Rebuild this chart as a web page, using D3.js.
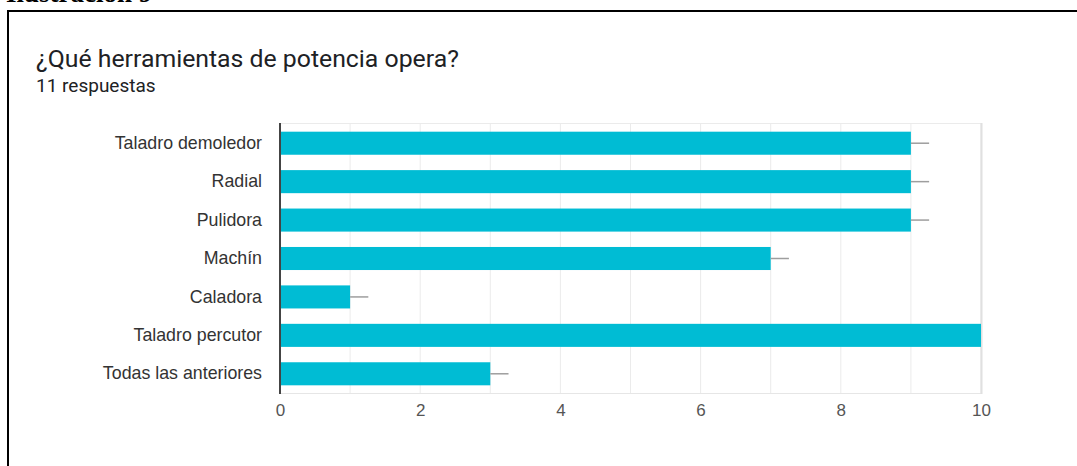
<!DOCTYPE html>
<html><head><meta charset="utf-8">
<script src="https://cdn.jsdelivr.net/npm/d3@7"></script>
<style>
html,body{margin:0;padding:0;background:#fff;}
svg{display:block;}
</style></head>
<body>
<svg id="chart" width="1077" height="466"></svg>
<script>
const categories = ["Taladro demoledor","Radial","Pulidora","Machín","Caladora","Taladro percutor","Todas las anteriores"];
const values = [9, 9, 9, 7, 1, 10, 3];
const tickValues = [0, 2, 4, 6, 8, 10];
const gridValues = [0,1,2,3,4,5,6,7,8,9,10];
const title = "¿Qué herramientas de potencia opera?";
const subtitle = "11 respuestas";
const caption = "Ilustración 9";

const svg = d3.select("#chart");
const W = 1077, H = 466;

// caption cut off at top
svg.append("text").attr("x", 6).attr("y", 2)
  .attr("font-family", "Liberation Serif, serif").attr("font-weight", "bold")
  .attr("font-size", 27).attr("fill", "#000").text(caption);

// frame
svg.append("line").attr("x1", 8).attr("x2", W).attr("y1", 11).attr("y2", 11)
  .attr("stroke", "#000").attr("stroke-width", 2);
svg.append("line").attr("x1", 8).attr("x2", 8).attr("y1", 10).attr("y2", H)
  .attr("stroke", "#000").attr("stroke-width", 2);

svg.append("text").attr("x", 36).attr("y", 67)
  .attr("font-family", "Roboto, sans-serif").attr("font-size", 24.8).attr("fill", "#202124")
  .text(title);
svg.append("text").attr("x", 36).attr("y", 92)
  .attr("font-family", "Roboto, sans-serif").attr("font-size", 19).attr("fill", "#202124")
  .text(subtitle);

const x = d3.scaleLinear().domain([0, 10]).range([280, 981]);
const y = d3.scaleBand().domain(categories).range([124, 393]).paddingInner(0.4).paddingOuter(0.2);

const g = svg.append("g");
// gridlines
g.selectAll("line.grid").data(gridValues).join("line").attr("class","grid")
  .attr("x1", d => x(d)).attr("x2", d => x(d)).attr("y1", 123).attr("y2", 393)
  .attr("stroke", "#ebebeb").attr("stroke-width", 1);
g.append("line").attr("x1", 280).attr("x2", 982).attr("y1", 123.5).attr("y2", 123.5).attr("stroke", "#ebebeb");
g.append("line").attr("x1", 280).attr("x2", 982).attr("y1", 393.5).attr("y2", 393.5).attr("stroke", "#e6e6e6");
g.append("line").attr("x1", 981.5).attr("x2", 981.5).attr("y1", 123).attr("y2", 394).attr("stroke", "#e0e0e0").attr("stroke-width", 2);

// bars
g.selectAll("rect.bar").data(values).join("rect").attr("class","bar")
  .attr("x", x(0)).attr("y", (d,i) => y(categories[i]))
  .attr("width", d => x(d) - x(0)).attr("height", y.bandwidth())
  .attr("fill", "#00bcd4");

// whiskers
g.selectAll("line.wh").data(values).join("line").attr("class","wh")
  .attr("x1", d => x(d)).attr("x2", d => x(Math.min(d + 0.26, 10)))
  .attr("y1", (d,i) => y(categories[i]) + y.bandwidth()/2)
  .attr("y2", (d,i) => y(categories[i]) + y.bandwidth()/2)
  .attr("stroke", "#9e9e9e").attr("stroke-width", 1.5);

// left axis line
g.append("line").attr("x1", 280).attr("x2", 280).attr("y1", 123).attr("y2", 394)
  .attr("stroke", "#444").attr("stroke-width", 2);

// y labels
const yAxis = d3.axisLeft(y).tickSize(0).tickPadding(0);
const ya = svg.append("g").attr("transform", "translate(262,0)").call(yAxis);
ya.select(".domain").remove();
ya.selectAll("text").attr("font-family", "Liberation Sans, Arial, sans-serif").attr("font-size", 17.8).attr("fill", "#333");

// x labels
const xAxis = d3.axisBottom(x).tickValues(tickValues).tickSize(0).tickPadding(0).tickFormat(d3.format("d"));
const xa = svg.append("g").attr("transform", "translate(0,404)").call(xAxis);
xa.select(".domain").remove();
xa.selectAll("text").attr("font-family", "Liberation Sans, Arial, sans-serif").attr("font-size", 17).attr("fill", "#555");
</script>
</body></html>
